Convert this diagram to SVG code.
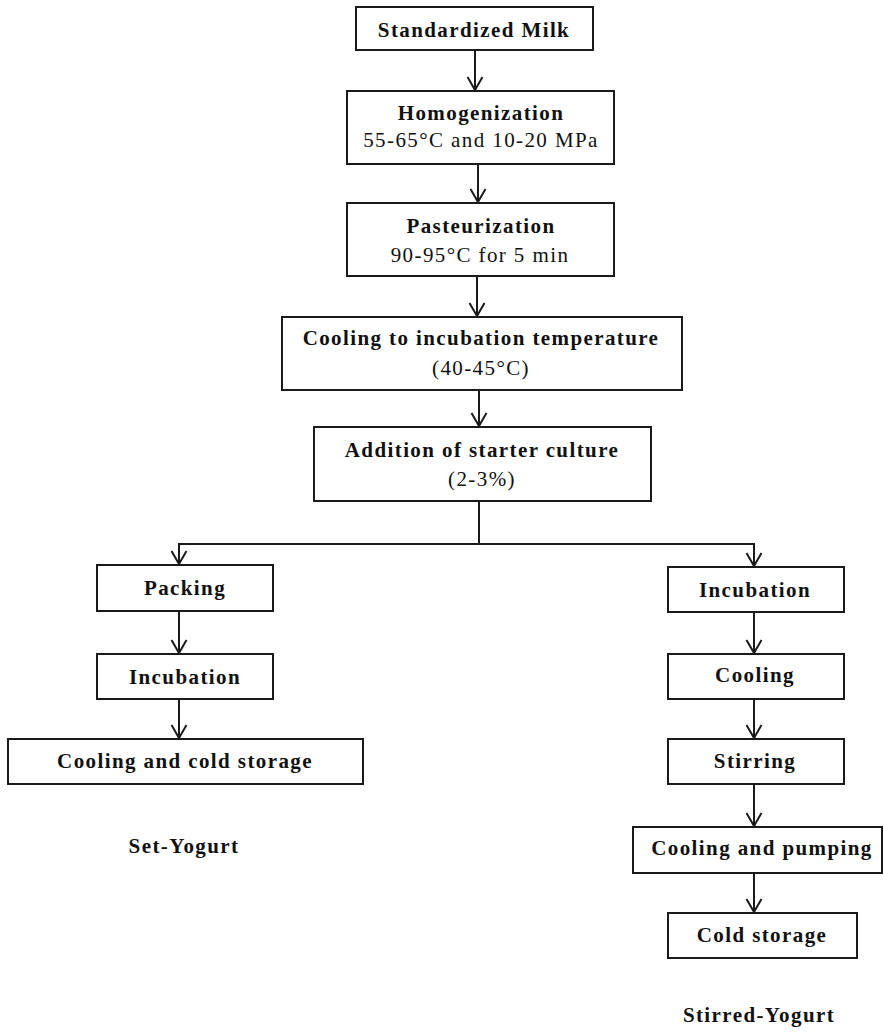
<svg xmlns="http://www.w3.org/2000/svg" width="884" height="1032" viewBox="0 0 884 1032">
<defs>
<marker id="arr" markerUnits="userSpaceOnUse" viewBox="-14 -9 16 18" markerWidth="16" markerHeight="18" refX="0" refY="0" orient="auto">
<path d="M-13,-7.5 L0,0 L-13,7.5" fill="none" stroke="#1a1a1a" stroke-width="2"/>
</marker>
<style>
rect{fill:#fff;stroke:#1a1a1a;stroke-width:2}
text{font-family:"Liberation Serif","Times New Roman",serif;font-size:21px;fill:#111;text-anchor:middle;letter-spacing:1.4px}
.b{font-weight:bold}
.c line,.c path{stroke:#1a1a1a;stroke-width:2;fill:none}
</style>
</defs>
<rect x="0" y="0" width="884" height="1032" style="fill:#fff;stroke:none"/>
<g class="c" id="connectors">
<line x1="475" y1="50" x2="475" y2="90" marker-end="url(#arr)"/>
<line x1="478" y1="164" x2="478" y2="202" marker-end="url(#arr)"/>
<line x1="477" y1="276" x2="477" y2="316" marker-end="url(#arr)"/>
<line x1="479" y1="390" x2="479" y2="426" marker-end="url(#arr)"/>
<path d="M479,501 L479,544"/>
<path d="M754,544 L179,544 L179,564" marker-end="url(#arr)"/>
<path d="M479,544 L754,544 L754,566" marker-end="url(#arr)"/>
<line x1="179" y1="611" x2="179" y2="653" marker-end="url(#arr)"/>
<line x1="179" y1="699" x2="179" y2="738" marker-end="url(#arr)"/>
<line x1="754" y1="612" x2="754" y2="653" marker-end="url(#arr)"/>
<line x1="754" y1="699" x2="754" y2="738" marker-end="url(#arr)"/>
<line x1="754" y1="784" x2="754" y2="826" marker-end="url(#arr)"/>
<line x1="754" y1="873" x2="754" y2="912" marker-end="url(#arr)"/>
</g>
<g id="n1"><rect x="356" y="7" width="237" height="43"/><text class="b" x="474" y="37">Standardized Milk</text></g>
<g id="n2"><rect x="347" y="91" width="267" height="73"/><text class="b" x="481" y="120">Homogenization</text><text x="481" y="147">55-65°C and 10-20 MPa</text></g>
<g id="n3"><rect x="347" y="203" width="267" height="73"/><text class="b" x="481" y="233">Pasteurization</text><text x="480" y="262">90-95°C for 5 min</text></g>
<g id="n4"><rect x="282" y="317" width="400" height="73"/><text class="b" x="481" y="345">Cooling to incubation temperature</text><text x="481" y="375">(40-45°C)</text></g>
<g id="n5"><rect x="314" y="427" width="337" height="74"/><text class="b" x="482" y="457">Addition of starter culture</text><text x="482" y="486">(2-3%)</text></g>
<g id="n6"><rect x="97" y="565" width="176" height="46"/><text class="b" x="185" y="595">Packing</text></g>
<g id="n7"><rect x="97" y="654" width="176" height="45"/><text class="b" x="185" y="684">Incubation</text></g>
<g id="n8"><rect x="8" y="739" width="355" height="45"/><text class="b" x="185" y="768">Cooling and cold storage</text></g>
<g id="n9"><rect x="668" y="567" width="176" height="45"/><text class="b" x="755" y="597">Incubation</text></g>
<g id="n10"><rect x="668" y="654" width="176" height="45"/><text class="b" x="755" y="682">Cooling</text></g>
<g id="n11"><rect x="668" y="739" width="176" height="45"/><text class="b" x="755" y="768">Stirring</text></g>
<g id="n12"><rect x="633" y="827" width="249" height="46"/><text class="b" x="762" y="855">Cooling and pumping</text></g>
<g id="n13"><rect x="668" y="913" width="189" height="45"/><text class="b" x="762" y="942">Cold storage</text></g>
<g id="l1"><text class="b" x="184" y="853">Set-Yogurt</text></g>
<g id="l2"><text class="b" x="759" y="1022">Stirred-Yogurt</text></g>
</svg>
